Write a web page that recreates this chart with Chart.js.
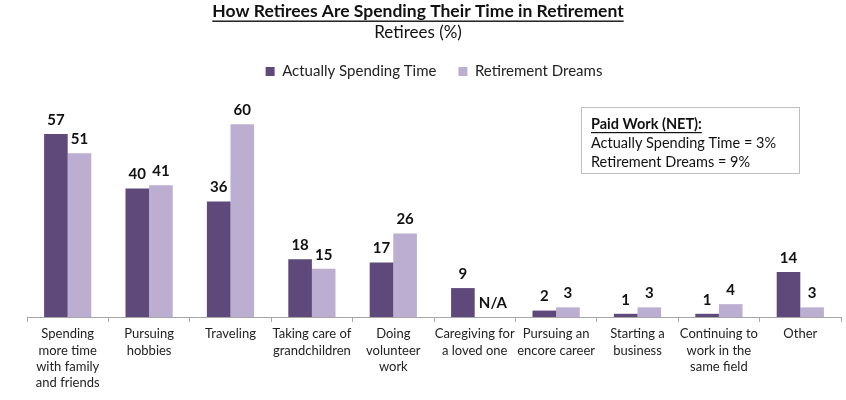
<!DOCTYPE html>
<html>
<head>
<meta charset="utf-8">
<script src="https://cdn.jsdelivr.net/npm/chart.js@4.4.1/dist/chart.umd.min.js"></script>
<style>
  html, body { margin: 0; padding: 0; background: #fff; }
  #wrap { width: 846px; height: 400px; position: relative; }
</style>
</head>
<body>
<div id="wrap"><canvas id="retireChart"></canvas></div>
<script>
// --- dados ---
const categorias = [
  ['Spending', 'more time', 'with family', 'and friends'],
  ['Pursuing', 'hobbies'],
  ['Traveling'],
  ['Taking care of', 'grandchildren'],
  ['Doing', 'volunteer', 'work'],
  ['Caregiving for', 'a loved one'],
  ['Pursuing an', 'encore career'],
  ['Starting a', 'business'],
  ['Continuing to', 'work in the', 'same field'],
  ['Other']
];
const actuallySpending = [57, 40, 36, 18, 17, 9, 2, 1, 1, 14];
const retirementDreams = [51, 41, 60, 15, 26, null, 3, 3, 4, 3];
const serieNomes = ['Actually Spending Time', 'Retirement Dreams'];

const titulo = 'How Retirees Are Spending Their Time in Retirement';
const subtitulo = 'Retirees (%)';
const notaLinhas = ['Paid Work (NET):', 'Actually Spending Time = 3%', 'Retirement Dreams = 9%'];

const corEscura = '#5F497A';
const corClara = '#BCAED0';
const FONTE = 'Lato, "Open Sans", sans-serif';

// titulo, subtitulo, caixa de nota e rótulos de valores
const extrasPlugin = {
  id: 'extras',
  afterDraw(chart) {
    const ctx = chart.ctx;
    ctx.save();
    ctx.fillStyle = '#111';
    ctx.textAlign = 'center';
    ctx.textBaseline = 'middle';

    // titulo sublinhado
    ctx.font = 'bold 17.5px ' + FONTE;
    ctx.fillText(titulo, 418, 11);
    const w = ctx.measureText(titulo).width;
    ctx.fillRect(418 - w / 2, 20.5, w, 1.4);

    ctx.font = '17px ' + FONTE;
    ctx.fillText(subtitulo, 418, 33);

    // caixa "Paid Work"
    ctx.strokeStyle = '#BFBFBF';
    ctx.lineWidth = 1;
    ctx.strokeRect(581.5, 107.5, 218, 66);
    ctx.textAlign = 'left';
    ctx.font = 'bold 14.5px ' + FONTE;
    ctx.fillText(notaLinhas[0], 591, 124);
    const wn = ctx.measureText(notaLinhas[0]).width;
    ctx.fillRect(591, 132, wn, 1.2);
    ctx.font = '14.5px ' + FONTE;
    ctx.fillText(notaLinhas[1], 591, 143);
    ctx.fillText(notaLinhas[2], 591, 162);

    // rótulos sobre as barras
    ctx.textAlign = 'center';
    ctx.font = 'bold 15px ' + FONTE;
    const m0 = chart.getDatasetMeta(0);
    const m1 = chart.getDatasetMeta(1);
    const base = chart.scales.y.getPixelForValue(0);
    [m0, m1].forEach((meta, di) => {
      const valores = chart.data.datasets[di].data;
      meta.data.forEach((bar, i) => {
        const v = valores[i];
        if (v === null) {
          const ref = m0.data[i];
          ctx.fillText('N/A', ref.x + 30, base - 14);
        } else {
          ctx.fillText(String(v), bar.x, bar.y - 14);
        }
      });
    });
    ctx.restore();
  }
};

new Chart(document.getElementById('retireChart'), {
  type: 'bar',
  data: {
    labels: categorias,
    datasets: [{
      label: serieNomes[0],
      data: actuallySpending,
      backgroundColor: corEscura,
      categoryPercentage: 0.58,
      barPercentage: 1.0
    }, {
      label: serieNomes[1],
      data: retirementDreams,
      backgroundColor: corClara,
      categoryPercentage: 0.58,
      barPercentage: 1.0
    }]
  },
  options: {
    responsive: true,
    maintainAspectRatio: false,
    animation: false,
    layout: { padding: { top: 42, left: 27, right: 5, bottom: 0 } },
    plugins: {
      title: { display: false },
      tooltip: { enabled: false },
      legend: {
        display: true,
        position: 'top',
        labels: {
          boxWidth: 9,
          boxHeight: 9,
          padding: 22,
          color: '#222',
          font: { family: FONTE, size: 15 }
        }
      }
    },
    scales: {
      y: {
        display: false,
        min: 0,
        max: 71
      },
      x: {
        afterFit: (scale) => { scale.height = 83; },
        grid: {
          display: true,
          offset: true,
          drawOnChartArea: false,
          drawTicks: true,
          tickLength: 5,
          color: '#A6A6A6'
        },
        border: { display: true, color: '#A6A6A6', width: 1 },
        ticks: {
          maxRotation: 0,
          autoSkip: false,
          padding: 4,
          color: '#222',
          font: { family: FONTE, size: 13, lineHeight: 1.25 }
        }
      }
    }
  },
  plugins: [extrasPlugin]
});
</script>
</body>
</html>
